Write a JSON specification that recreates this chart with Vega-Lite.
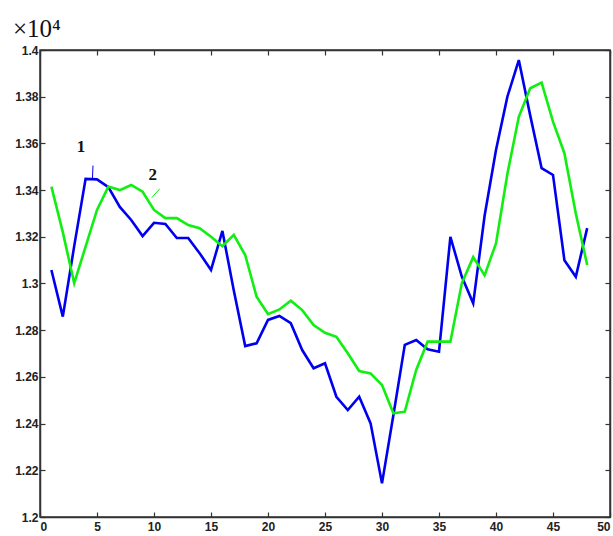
{
  "$schema": "https://vega.github.io/schema/vega-lite/v6.json",
  "autosize": "none",
  "width": 570,
  "height": 467,
  "padding": {"left": 40, "top": 50, "right": 3, "bottom": 19},
  "background": "white",
  "title": {"text": "×10⁴", "anchor": "start", "frame": "group", "dx": -27, "offset": 2, "font": "Liberation Serif", "fontSize": 25, "fontWeight": "normal", "color": "#111"},
  "config": {
    "view": {"stroke": "#333", "strokeWidth": 1.5},
    "axis": {"grid": false, "domainColor": "#333", "domainWidth": 1.5, "tickColor": "#333", "tickWidth": 1.2, "labelFont": "Liberation Sans", "labelFontWeight": "bold", "labelFontSize": 12, "labelColor": "#222", "title": null}
  },
  "datasets": {
    "lines": [
      {"x":1,"y":1.3058,"s":"1"},{"x":2,"y":1.2858,"s":"1"},{"x":3,"y":1.316,"s":"1"},{"x":4,"y":1.3448,"s":"1"},{"x":5,"y":1.3446,"s":"1"},{"x":6,"y":1.3413,"s":"1"},{"x":7,"y":1.3328,"s":"1"},{"x":8,"y":1.3272,"s":"1"},{"x":9,"y":1.3203,"s":"1"},{"x":10,"y":1.326,"s":"1"},{"x":11,"y":1.3255,"s":"1"},{"x":12,"y":1.3195,"s":"1"},{"x":13,"y":1.3195,"s":"1"},{"x":14,"y":1.313,"s":"1"},{"x":15,"y":1.3058,"s":"1"},{"x":16,"y":1.3225,"s":"1"},{"x":17,"y":1.297,"s":"1"},{"x":18,"y":1.2732,"s":"1"},{"x":19,"y":1.2744,"s":"1"},{"x":20,"y":1.2844,"s":"1"},{"x":21,"y":1.2861,"s":"1"},{"x":22,"y":1.283,"s":"1"},{"x":23,"y":1.2715,"s":"1"},{"x":24,"y":1.2637,"s":"1"},{"x":25,"y":1.2658,"s":"1"},{"x":26,"y":1.2515,"s":"1"},{"x":27,"y":1.2458,"s":"1"},{"x":28,"y":1.2515,"s":"1"},{"x":29,"y":1.2401,"s":"1"},{"x":30,"y":1.2144,"s":"1"},{"x":31,"y":1.2437,"s":"1"},{"x":32,"y":1.2737,"s":"1"},{"x":33,"y":1.2758,"s":"1"},{"x":34,"y":1.2718,"s":"1"},{"x":35,"y":1.2708,"s":"1"},{"x":36,"y":1.32,"s":"1"},{"x":37,"y":1.303,"s":"1"},{"x":38,"y":1.2915,"s":"1"},{"x":39,"y":1.329,"s":"1"},{"x":40,"y":1.3572,"s":"1"},{"x":41,"y":1.38,"s":"1"},{"x":42,"y":1.3957,"s":"1"},{"x":43,"y":1.372,"s":"1"},{"x":44,"y":1.3494,"s":"1"},{"x":45,"y":1.3465,"s":"1"},{"x":46,"y":1.31,"s":"1"},{"x":47,"y":1.3029,"s":"1"},{"x":48,"y":1.3237,"s":"1"},
      {"x":1,"y":1.3415,"s":"2"},{"x":2,"y":1.322,"s":"2"},{"x":3,"y":1.3001,"s":"2"},{"x":4,"y":1.3158,"s":"2"},{"x":5,"y":1.3315,"s":"2"},{"x":6,"y":1.3415,"s":"2"},{"x":7,"y":1.34,"s":"2"},{"x":8,"y":1.3422,"s":"2"},{"x":9,"y":1.3393,"s":"2"},{"x":10,"y":1.3315,"s":"2"},{"x":11,"y":1.328,"s":"2"},{"x":12,"y":1.328,"s":"2"},{"x":13,"y":1.325,"s":"2"},{"x":14,"y":1.3237,"s":"2"},{"x":15,"y":1.32,"s":"2"},{"x":16,"y":1.316,"s":"2"},{"x":17,"y":1.3208,"s":"2"},{"x":18,"y":1.3122,"s":"2"},{"x":19,"y":1.2943,"s":"2"},{"x":20,"y":1.2869,"s":"2"},{"x":21,"y":1.2889,"s":"2"},{"x":22,"y":1.2926,"s":"2"},{"x":23,"y":1.2886,"s":"2"},{"x":24,"y":1.2822,"s":"2"},{"x":25,"y":1.2789,"s":"2"},{"x":26,"y":1.2772,"s":"2"},{"x":27,"y":1.2701,"s":"2"},{"x":28,"y":1.2625,"s":"2"},{"x":29,"y":1.2615,"s":"2"},{"x":30,"y":1.2565,"s":"2"},{"x":31,"y":1.2444,"s":"2"},{"x":32,"y":1.2451,"s":"2"},{"x":33,"y":1.263,"s":"2"},{"x":34,"y":1.2751,"s":"2"},{"x":35,"y":1.2751,"s":"2"},{"x":36,"y":1.2751,"s":"2"},{"x":37,"y":1.3001,"s":"2"},{"x":38,"y":1.3113,"s":"2"},{"x":39,"y":1.3035,"s":"2"},{"x":40,"y":1.3172,"s":"2"},{"x":41,"y":1.347,"s":"2"},{"x":42,"y":1.3714,"s":"2"},{"x":43,"y":1.3836,"s":"2"},{"x":44,"y":1.386,"s":"2"},{"x":45,"y":1.3693,"s":"2"},{"x":46,"y":1.3558,"s":"2"},{"x":47,"y":1.33,"s":"2"},{"x":48,"y":1.3079,"s":"2"}
    ],
    "labels": [
      {"x":3.6,"y":1.3585,"t":"1"},
      {"x":9.9,"y":1.3465,"t":"2"}
    ],
    "leaders": [
      {"x":4.6,"x2":4.65,"y":1.3449,"y2":1.3505,"s":"1"},
      {"x":9.8,"x2":10.5,"y":1.3368,"y2":1.3405,"s":"2"}
    ]
  },
  "layer": [
    {
      "data": {"name": "lines"},
      "mark": {"type": "line", "strokeWidth": 2.6, "clip": true},
      "encoding": {
        "x": {"field": "x", "type": "quantitative", "scale": {"domain": [0, 50], "nice": false, "zero": false},
              "axis": {"orient": "bottom", "values": [0,5,10,15,20,25,30,35,40,45,50], "tickSize": -5, "labelPadding": 9}},
        "y": {"field": "y", "type": "quantitative", "scale": {"domain": [1.2, 1.4], "nice": false, "zero": false},
              "axis": {"orient": "left", "values": [1.2,1.22,1.24,1.26,1.28,1.3,1.32,1.34,1.36,1.38,1.4], "format": ".3~f", "tickSize": -5, "labelPadding": 7}},
        "color": {"field": "s", "type": "nominal", "scale": {"domain": ["1","2"], "range": ["#0000F0", "#11EE11"]}, "legend": null}
      }
    },
    {
      "data": {"name": "leaders"},
      "mark": {"type": "rule", "strokeWidth": 1},
      "encoding": {
        "x": {"field": "x", "type": "quantitative", "axis": {"orient": "top", "values": [0,5,10,15,20,25,30,35,40,45,50], "labels": false, "tickSize": -5}},
        "x2": {"field": "x2"},
        "y": {"field": "y", "type": "quantitative", "axis": {"orient": "right", "values": [1.2,1.22,1.24,1.26,1.28,1.3,1.32,1.34,1.36,1.38,1.4], "labels": false, "tickSize": -5}},
        "y2": {"field": "y2"},
        "color": {"field": "s", "type": "nominal", "legend": null}
      }
    },
    {
      "data": {"name": "labels"},
      "mark": {"type": "text", "font": "Liberation Serif", "fontWeight": "bold", "fontSize": 17, "color": "#111"},
      "encoding": {
        "x": {"field": "x", "type": "quantitative", "axis": null},
        "y": {"field": "y", "type": "quantitative", "axis": null},
        "text": {"field": "t"}
      }
    }
  ],
  "resolve": {"axis": {"x": "independent", "y": "independent"}}
}
